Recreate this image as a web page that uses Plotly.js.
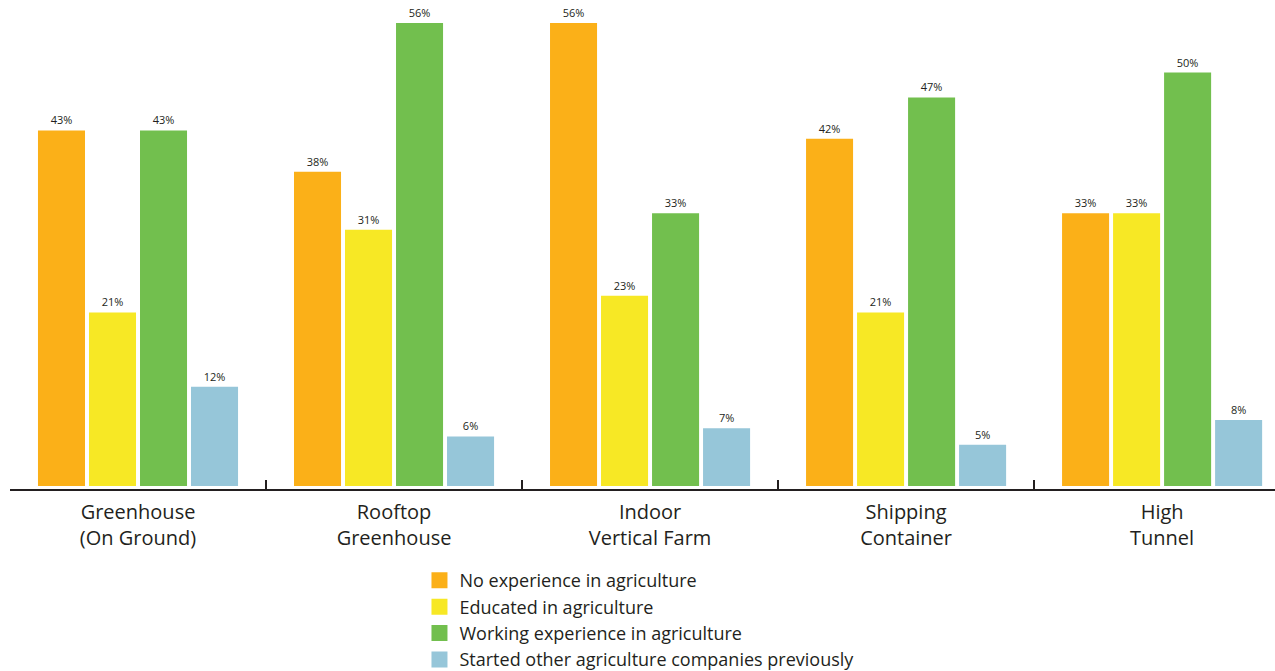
<!DOCTYPE html>
<html>
<head>
<meta charset="utf-8">
<script src="https://cdn.plot.ly/plotly-3.0.1.min.js"></script>
<style>html,body{margin:0;padding:0;background:#fff}#chart{width:1275px;height:671px}</style>
</head>
<body>
<div id="chart"></div>
<script>
const categories = ["Greenhouse<br>(On Ground)", "Rooftop<br>Greenhouse", "Indoor<br>Vertical Farm", "Shipping<br>Container", "High<br>Tunnel"];
const seriesNames = ["No experience in agriculture", "Educated in agriculture", "Working experience in agriculture", "Started other agriculture companies previously"];
const noExperience = [43, 38, 56, 42, 33];
const educated = [21, 31, 23, 21, 33];
const working = [43, 56, 33, 47, 50];
const startedOther = [12, 6, 7, 5, 8];
const colors = ["#FBB018", "#F7E825", "#72BF4E", "#96C6D9"];

const FONT = "Open Sans, Lato, sans-serif";
const TXT = "#231F20";
const idx = categories.map((c, i) => i);
const dividers = idx.slice(1).map(i => i - 0.5);
const values = [noExperience, educated, working, startedOther];

const traces = values.map((v, k) => ({
  type: "bar",
  name: seriesNames[k],
  x: idx,
  y: v,
  marker: {color: colors[k]},
  text: v.map(d => d + "%"),
  textposition: "outside",
  constraintext: "none",
  cliponaxis: false,
  textfont: {family: FONT, size: 11, color: TXT},
  showlegend: false,
  hoverinfo: "none"
}));
// legend entries
values.forEach((v, k) => traces.push({
  type: "scatter",
  mode: "markers",
  name: seriesNames[k],
  x: [null], y: [null],
  marker: {symbol: "square", size: 18, color: colors[k]},
  showlegend: true,
  hoverinfo: "none"
}));

const layout = {
  width: 1275, height: 671,
  margin: {l: 10, r: 0, t: 0, b: 182, autoexpand: false},
  paper_bgcolor: "#fff", plot_bgcolor: "#fff",
  barmode: "group",
  bargap: 0.203,
  bargroupgap: 0.078,
  font: {family: FONT, color: TXT},
  xaxis: {
    type: "linear",
    range: [-0.5, 4.441],
    tickmode: "array",
    tickvals: idx,
    ticktext: categories,
    tickangle: 0,
    ticks: "",
    ticklabelstandoff: 4,
    showline: true, linecolor: TXT, linewidth: 2,
    showgrid: false, zeroline: false,
    tickfont: {family: FONT, size: 20, color: TXT},
    minor: {tickmode: "array", tickvals: dividers, ticks: "inside", ticklen: 9, tickwidth: 2, tickcolor: TXT, showgrid: false}
  },
  yaxis: {
    type: "linear",
    range: [-0.36, 58.78],
    visible: false, showgrid: false, zeroline: false, fixedrange: true
  },
  showlegend: true,
  legend: {
    xref: "container", yref: "container",
    x: 0.329, y: 0.1624, xanchor: "left", yanchor: "top",
    font: {family: FONT, size: 18, color: TXT},
    tracegroupgap: 0,
    bgcolor: "rgba(0,0,0,0)"
  }
};

Plotly.newPlot("chart", traces, layout, {displayModeBar: false, staticPlot: true});
</script>
</body>
</html>
